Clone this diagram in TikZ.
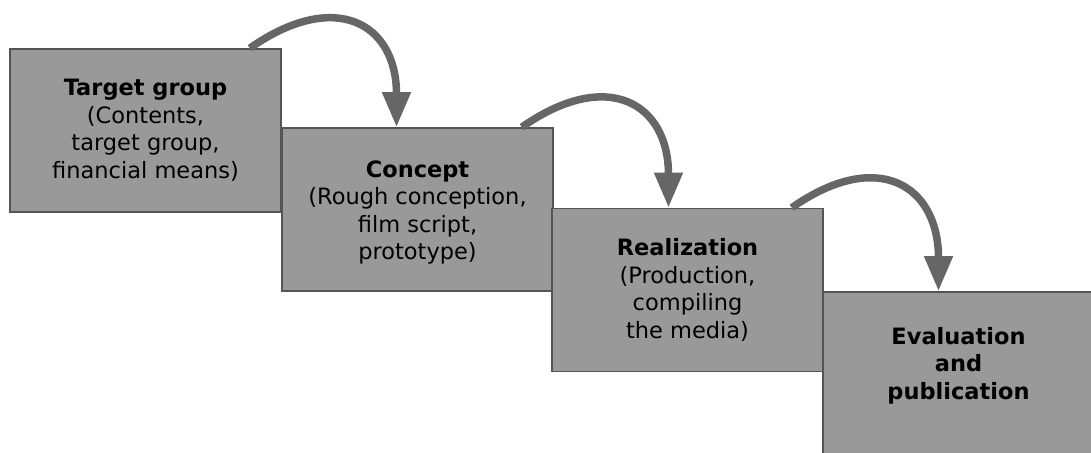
\documentclass[tikz,border=0pt]{standalone}
\usepackage{fontspec}
\setmainfont{DejaVu Sans}
\usetikzlibrary{arrows.meta}
\definecolor{boxgray}{RGB}{153,153,153}
\definecolor{edgegray}{RGB}{85,85,85}
\definecolor{arrowgray}{RGB}{102,102,102}
\tikzset{
	phase/.style={rectangle, fill=boxgray, draw=edgegray, line width=1.6pt, minimum width=271pt, minimum height=163pt, inner sep=0pt},
	phasetext/.style={align=center, font=\fontsize{22.5}{27.5}\selectfont},
	flow/.style={draw=arrowgray, line width=7.5pt, -{Triangle[length=35pt,width=27pt]}, out=35, in=90, looseness=1.6}
}
\begin{document}
\begin{tikzpicture}[x=1pt,y=1pt]
		\useasboundingbox (0,0) rectangle (1091,452);
		\fill[white] (0,0) rectangle (1091,452);
		\node[phase] (tg) at (145.5,321.5) {};
		\node[phase] (con) at (417.5,242.5) {};
		\node[phase] (real) at (687.5,162) {};
		\node[phase] (eval) at (958.5,78.5) {};
		\node[phasetext] (tgtext) at (tg.center) {\textbf{Target group}\\(Contents,\\target group,\\financial means)};
		\node[phasetext] (context) at ([yshift=-3pt]con.center) {\textbf{Concept}\\(Rough conception,\\film script,\\prototype)};
		\node[phasetext] (realtext) at (real.center) {\textbf{Realization}\\(Production,\\compiling\\the media)};
		\node[phasetext] (evaltext) at ([yshift=8pt]eval.center) {\textbf{Evaluation}\\\textbf{and}\\\textbf{publication}};
		\draw[flow] ([xshift=-32pt]tg.north east) to ([xshift=-21pt]con.north);
		\draw[flow] ([xshift=-32pt]con.north east) to ([xshift=-19pt]real.north);
		\draw[flow] ([xshift=-32pt]real.north east) to ([xshift=-20pt]eval.north);
	\end{tikzpicture}
\end{document}
